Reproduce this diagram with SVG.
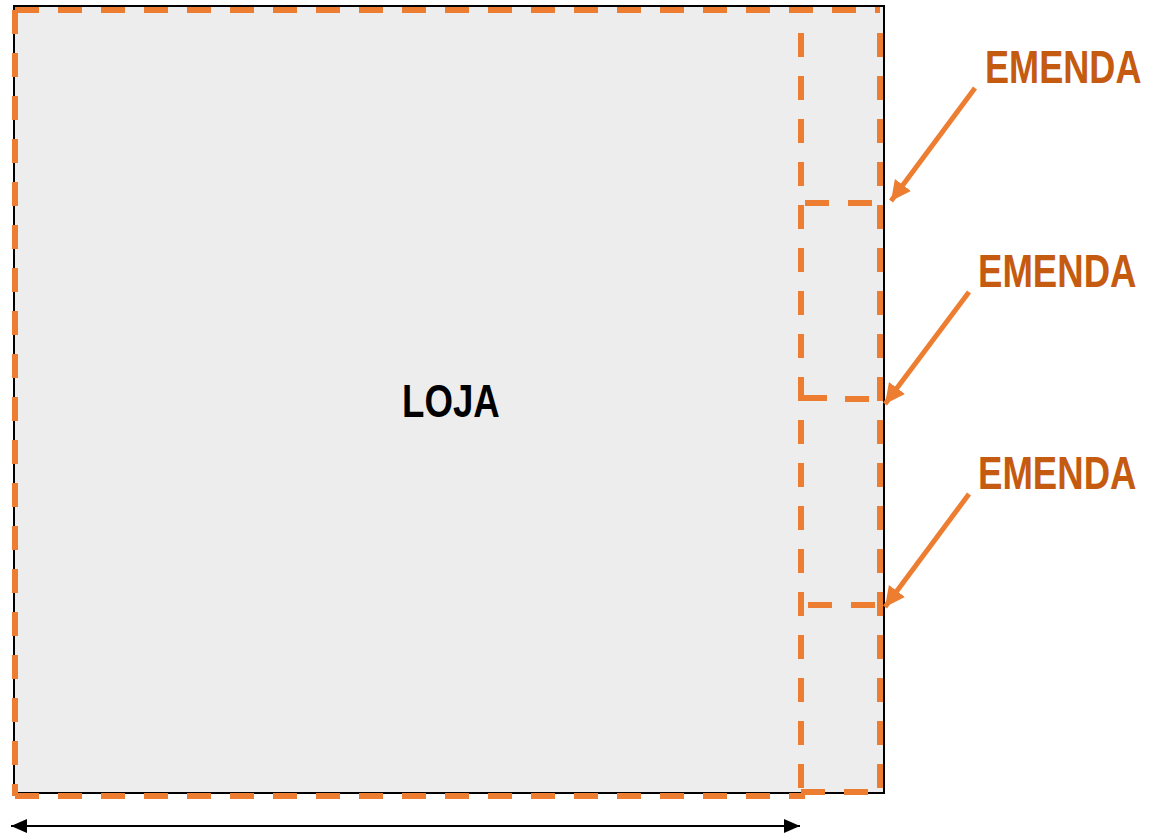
<svg xmlns="http://www.w3.org/2000/svg" width="1151" height="835" viewBox="0 0 1151 835">
<style>
.dash{fill:none;stroke:#ED7D31;stroke-width:6;stroke-dasharray:24 19}
.call{fill:none;stroke:#ED7D31;stroke-width:5}
.lbl{font-family:"Liberation Sans",Arial,sans-serif;font-size:46px;font-weight:bold;fill:#C55A11}
</style>
<defs>
<marker id="oh" markerUnits="userSpaceOnUse" markerWidth="24" markerHeight="22" refX="20" refY="10" orient="auto">
<path d="M0,0 L20,10 L0,20 Z" fill="#ED7D31"/>
</marker>
<marker id="bh" markerUnits="userSpaceOnUse" markerWidth="18" markerHeight="16" refX="16" refY="7" orient="auto-start-reverse">
<path d="M0,0 L16,7 L0,14 Z" fill="#000"/>
</marker>
</defs>
<g id="loja">
<rect x="14" y="6" width="870" height="787" fill="#EDEDED" stroke="#000" stroke-width="2"/>
<text transform="translate(402,417) scale(0.78,1)" font-family="'Liberation Sans',Arial,sans-serif" font-size="47" font-weight="bold" fill="#000">LOJA</text>
</g>
<g id="outline">
<path class="dash" d="M15,10 H880"/>
<path class="dash" d="M15,10 V796"/>
<path class="dash" d="M15,796 H805"/>
</g>
<g id="strip">
<path class="dash" d="M801,33 V792"/>
<path class="dash" d="M880,33 V792"/>
<path class="dash" d="M801,792 H880"/>
<path class="dash" d="M805,203 H880"/>
<path class="dash" d="M803,398 H840 M845,399 H883"/>
<path class="dash" d="M808,605 H880"/>
</g>
<g id="connectors">
<line class="call" x1="975" y1="88" x2="891" y2="201" marker-end="url(#oh)"/>
<line class="call" x1="969" y1="292" x2="885" y2="404" marker-end="url(#oh)"/>
<line class="call" x1="969" y1="494" x2="885" y2="607" marker-end="url(#oh)"/>
<line x1="11" y1="826" x2="800" y2="826" stroke="#000" stroke-width="2" marker-start="url(#bh)" marker-end="url(#bh)"/>
</g>
<g id="labels">
<text class="lbl" transform="translate(985,83) scale(0.785,1)">EMENDA</text>
<text class="lbl" transform="translate(978,287) scale(0.795,1)">EMENDA</text>
<text class="lbl" transform="translate(978,489) scale(0.795,1)">EMENDA</text>
</g>
</svg>
